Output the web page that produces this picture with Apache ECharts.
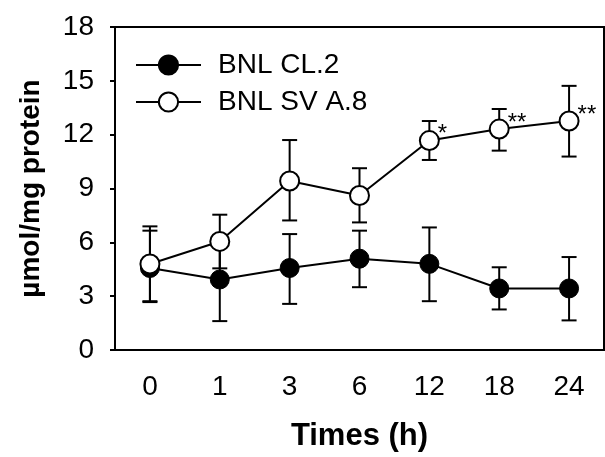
<!DOCTYPE html>
<html>
<head>
<meta charset="utf-8">
<script src="https://cdn.jsdelivr.net/npm/echarts@6/dist/echarts.min.js"></script>
<style>html,body{margin:0;padding:0;background:#fff;}#c{width:605px;height:457px;}</style>
</head>
<body>
<div id="c"></div>
<script>
var categories = ['0', '1', '3', '6', '12', '18', '24'];
var clMean = [4.57, 3.93, 4.57, 5.09, 4.80, 3.43, 3.43];
var clHigh = [6.65, 6.2, 6.46, 6.65, 6.83, 4.61, 5.18];
var clLow = [2.67, 1.61, 2.57, 3.50, 2.72, 2.26, 1.65];
var svMean = [4.79, 6.05, 9.42, 8.61, 11.67, 12.31, 12.76];
var svHigh = [6.89, 7.54, 11.7, 10.13, 12.76, 13.43, 14.72];
var svLow = [2.72, 4.55, 7.22, 7.11, 10.59, 11.11, 10.78];
var sigMarks = ['', '', '', '', '*', '**', '**'];
var yTicks = [0, 3, 6, 9, 12, 15, 18];

var FONT = 'Liberation Sans, Arial, sans-serif';

function errData(low, high) {
  return categories.map(function (c, i) { return [i, low[i], high[i]]; });
}
function errRender(params, api) {
  var x = api.value(0);
  var lo = api.coord([x, api.value(1)]);
  var hi = api.coord([x, api.value(2)]);
  var hw = 7.5;
  var st = { stroke: '#000', lineWidth: 2 };
  return {
    type: 'group',
    children: [
      { type: 'line', shape: { x1: lo[0], y1: lo[1], x2: hi[0], y2: hi[1] }, style: st },
      { type: 'line', shape: { x1: hi[0] - hw, y1: hi[1], x2: hi[0] + hw, y2: hi[1] }, style: st },
      { type: 'line', shape: { x1: lo[0] - hw, y1: lo[1], x2: lo[0] + hw, y2: lo[1] }, style: st }
    ]
  };
}

var svData = svMean.map(function (v, i) {
  var item = { value: v };
  if (sigMarks[i]) {
    item.label = {
      show: true, formatter: sigMarks[i], position: 'right', distance: 0,
      offset: [-2, -6], fontSize: 24, fontFamily: FONT, color: '#000'
    };
  }
  return item;
});

var chart = echarts.init(document.getElementById('c'), null, { renderer: 'canvas' });
chart.setOption({
  animation: false,
  backgroundColor: '#fff',
  grid: {
    left: 115, right: 1, top: 27, bottom: 103,
    show: true, borderColor: '#000', borderWidth: 2, backgroundColor: 'transparent'
  },
  legend: {
    orient: 'vertical', left: 135, top: 51, padding: 0,
    itemWidth: 65, itemHeight: 24, itemGap: 9,
    textStyle: { fontSize: 28, fontFamily: FONT, color: '#000', padding: [0, 0, 0, 12], lineHeight: 28 },
    data: ['BNL CL.2', 'BNL SV A.8']
  },
  xAxis: {
    type: 'category', data: categories, boundaryGap: true,
    name: 'Times (h)', nameLocation: 'middle', nameGap: 71,
    nameTextStyle: { fontSize: 31, fontWeight: 'bold', fontFamily: FONT, color: '#000' },
    axisLine: { lineStyle: { color: '#000', width: 2 } },
    axisTick: { alignWithLabel: true, length: 7, lineStyle: { color: '#000', width: 2 } },
    axisLabel: { fontSize: 28, fontFamily: FONT, color: '#000', margin: 23 },
    splitLine: { show: false }
  },
  yAxis: {
    type: 'value', min: 0, max: 18, interval: 3,
    name: 'µmol/mg protein', nameLocation: 'middle', nameGap: 70,
    nameTextStyle: { fontSize: 28, fontWeight: 'bold', fontFamily: FONT, color: '#000' },
    axisLine: { show: true, lineStyle: { color: '#000', width: 2 } },
    axisTick: { show: true, length: 5, lineStyle: { color: '#000', width: 2 } },
    axisLabel: {
      fontSize: 28, fontFamily: FONT, color: '#000', margin: 21,
      formatter: function (v) { return yTicks.indexOf(v) >= 0 ? String(v) : ''; }
    },
    splitLine: { show: false }
  },
  series: [
    {
      type: 'custom', name: 'errCL', renderItem: errRender, data: errData(clLow, clHigh),
      z: 1, silent: true, encode: { x: 0, y: [1, 2] }
    },
    {
      type: 'custom', name: 'errSV', renderItem: errRender, data: errData(svLow, svHigh),
      z: 1, silent: true, encode: { x: 0, y: [1, 2] }
    },
    {
      type: 'line', name: 'BNL CL.2', data: clMean, z: 3,
      symbol: 'circle', symbolSize: 19, showAllSymbol: true,
      lineStyle: { color: '#000', width: 2 },
      itemStyle: { color: '#000', borderColor: '#000', borderWidth: 1 }
    },
    {
      type: 'line', name: 'BNL SV A.8', data: svData, z: 4,
      symbol: 'circle', symbolSize: 19, showAllSymbol: true,
      lineStyle: { color: '#000', width: 2 },
      itemStyle: { color: '#fff', borderColor: '#000', borderWidth: 2 }
    }
  ]
});
</script>
</body>
</html>
